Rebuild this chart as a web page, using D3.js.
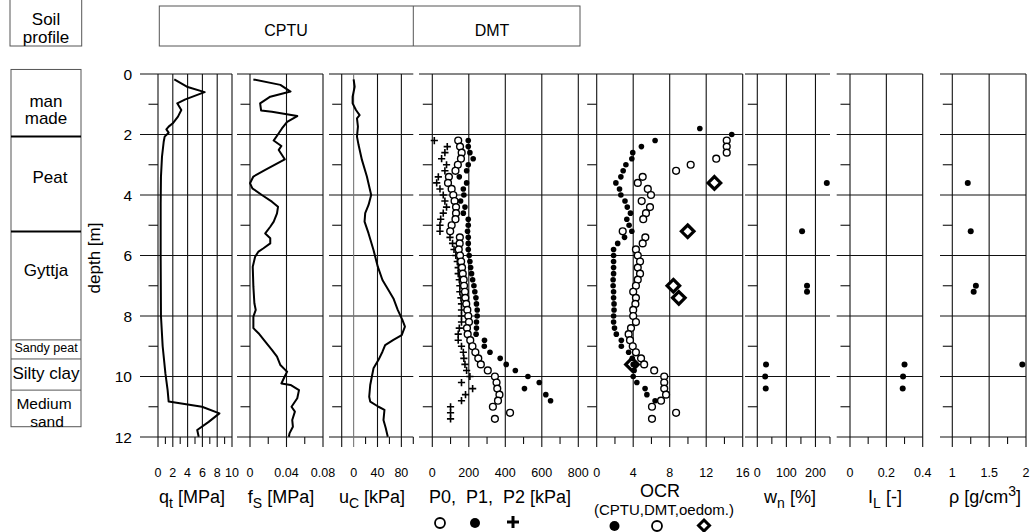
<!DOCTYPE html>
<html><head><meta charset="utf-8">
<script src="https://cdn.jsdelivr.net/npm/d3@7"></script>
<style>
body{margin:0;background:#fff}
svg{display:block}
text{font-family:"Liberation Sans",Arial,sans-serif;fill:#000}
</style></head>
<body><svg id="c" width="1033" height="532"></svg>
<script>
// ---------------- DATA ----------------
const depthTicks = [0,2,4,6,8,10,12];
const depthMinor = [1,3,5,7,9,11];
const soilNames = [["man","made"],["Peat"],["Gyttja"],["Sandy peat"],["Silty clay"],["Medium","sand"]];
const soilBounds = [-0.15,2.07,5.21,8.79,9.42,10.45,11.66];

const qtDepth = [0.18,0.42,0.6,0.84,0.97,1.19,1.41,1.63,1.74,1.83,1.94,2.07,2.24,2.73,3.4,4.28,6.04,8.0,9.0,9.9,10.45,10.83,11.0,11.22,11.5,11.77,11.99];
const qtValue = [2.2,3.9,6.3,3.7,2.6,3.15,2.7,2.0,1.44,1.13,1.44,0.9,0.77,0.54,0.4,0.36,0.36,0.4,0.63,1.0,1.3,1.44,5.95,8.3,6.85,5.3,5.5];

const fsDepth = [0.18,0.36,0.58,0.75,0.97,1.21,1.25,1.39,1.58,1.8,1.96,2.2,2.38,2.51,2.82,3.17,3.39,3.61,3.78,4.0,4.22,4.39,4.61,4.88,5.05,5.27,5.43,5.6,5.76,5.87,6.04,6.37,7.03,7.58,7.8,8.02,8.4,8.57,8.85,9.12,9.34,9.62,9.79,9.84,10.0,10.23,10.28,10.45,10.72,11.0,11.16,11.44,11.66,11.88,11.99];
const fsValue = [0.0037,0.0333,0.0444,0.0222,0.0111,0.0122,0.024,0.0518,0.0407,0.035,0.0315,0.0259,0.0344,0.0315,0.0381,0.0167,0.0037,0.0,0.0026,0.013,0.024,0.0307,0.0296,0.026,0.0222,0.0167,0.0222,0.0222,0.0148,0.0093,0.0056,0.003,0.0037,0.0048,0.0063,0.0037,0.0037,0.0093,0.0167,0.024,0.0296,0.0333,0.0389,0.0407,0.038,0.0344,0.0444,0.0537,0.0518,0.0455,0.0492,0.0463,0.047,0.0433,0.0426];

const ucDepth = [0.18,0.42,0.75,0.97,1.19,1.36,1.47,1.74,2.07,2.35,2.84,3.39,4.0,4.33,4.6,4.88,5.27,5.82,6.37,6.81,7.14,7.42,7.8,8.13,8.35,8.63,8.79,8.96,9.18,9.45,9.73,10.0,10.28,10.67,10.83,11.0,11.1,11.44,11.71,11.99];
const ucValue = [0,1.7,-1.7,-1.7,3.9,10,5.6,7.2,5.6,8.3,13.9,22.2,29.4,25,19.4,18.3,25,33.3,40.5,48.3,58.3,66.7,73.9,81.7,86,80.6,66.7,52.8,48.3,41.7,33.3,30.6,27.8,26.1,27.8,41.7,51.7,50,53.9,57.2];

const dmtDepth = [2.2,2.4,2.6,2.8,3.0,3.2,3.4,3.6,3.8,4.0,4.2,4.4,4.6,4.8,5.0,5.2,5.4,5.6,5.8,6.0,6.2,6.4,6.6,6.8,7.0,7.2,7.4,7.6,7.8,8.0,8.2,8.4,8.6,8.8,9.0,9.2,9.4,9.6,9.8,10.0,10.2,10.4,10.6,10.8,11.0,11.2,11.4];
const p0Value = [142,152,161,157,140,127,91,86,106,115,122,130,130,127,106,98,151,150,145,152,158,163,167,172,174,179,181,186,192,197,201,190,194,208,220,236,252,266,304,343,352,356,368,360,332,426,343];
const p1Value = [197,197,206,224,197,188,148,188,170,173,155,179,170,197,197,193,197,197,197,202,206,210,215,221,228,233,239,242,246,246,242,242,240,286,285,316,372,405,455,524,586,505,622,648];
const p2Value = [11,82,69,51,78,69,33,24,42,60,69,78,60,46,42,42,97,111,119,129,137,142,142,148,151,151,157,160,160,160,160,148,142,142,160,170,173,179,188,206,160,221,182,160,100,100,100];

const ocrCptuDepth = [1.8,2.0,2.2,2.4,2.6,2.8,3.0,3.2,3.4,3.6,3.8,4.0,4.2,4.4,4.6,4.8,5.0,5.2,5.4,5.6,5.8,6.0,6.2,6.4,6.6,6.8,7.0,7.2,7.4,7.6,7.8,8.0,8.2,8.4,8.6,8.8,9.0,9.2,9.4,9.6,9.8,10.0,10.2,10.4,10.6,10.8];
const ocrCptuValue = [11.3,14.8,6.4,4.9,3.95,3.85,3.2,2.9,2.65,2.1,2.5,2.65,3.1,3.35,3.7,3.3,3.55,3.85,3.05,2.3,1.85,1.85,1.85,1.85,1.85,1.8,1.8,1.85,1.85,1.9,1.9,1.85,1.85,1.95,2.15,2.7,2.7,3.5,3.9,4.0,4.1,4.0,4.4,5.3,5.5,6.4];
const ocrDmtDepth = [2.2,2.4,2.6,2.8,3.0,3.2,3.4,3.6,3.8,4.0,4.2,4.4,4.6,4.8,5.2,5.4,5.6,5.8,6.0,6.2,6.4,6.6,6.8,7.0,7.2,7.4,7.6,7.8,8.0,8.2,8.4,8.6,8.8,9.0,9.2,9.4,9.6,9.8,10.0,10.2,10.4,10.6,10.8,11.0,11.2,11.4];
const ocrDmtValue = [14.25,14.25,14.25,13.1,10.3,8.7,5.04,4.5,5.6,5.95,4.93,5.84,5.4,5.1,2.85,5.33,5.04,4.3,4.5,4.75,4.5,4.75,4.5,4.3,4.0,4.3,4.24,4.0,4.0,4.3,3.76,3.5,3.65,3.95,4.3,4.86,5.2,6.3,7.4,7.4,7.4,7.6,7.05,6.06,8.7,6.06];
const ocrOedDepth = [3.6,5.2,7.0,7.4,9.6];
const ocrOedValue = [12.9,9.97,8.4,9.0,3.87];

const wnDepth = [3.6,5.2,7.0,7.2,9.6,10.0,10.4];
const wnValue = [239,154,171,171,30,27,29];
const ilDepth = [9.6,10.0,10.4];
const ilValue = [0.3,0.292,0.29];
const rhoDepth = [3.6,5.2,7.0,7.2,9.6];
const rhoValue = [1.21,1.25,1.32,1.29,1.95];

const qtGrid=[0,2,4,6,8,10], qtMinor=[1,3,5,7,9], qtLabels=["0","2","4","6","8","10"];
const fsGrid=[0,0.04,0.08], fsMinor=[0.02,0.06], fsLabels=["0","0.04","0.08"];
const ucGrid=[-20,0,40,80], ucMinor=[20,60,100], ucLabelVals=[0,40,80], ucLabels=["0","40","80"];
const pGrid=[0,200,400,600,800], pMinor=[100,300,500,700], pLabels=["0","200","400","600","800"];
const ocrGrid=[0,4,8,12,16], ocrMinor=[2,6,10,14], ocrLabels=["0","4","8","12","16"];
const wnGrid=[0,100,200], wnMinor=[50,150,250], wnLabels=["0","100","200"];
const ilGrid=[0,0.2,0.4], ilMinor=[0.1,0.3], ilLabels=["0","0.2","0.4"];
const rhoGrid=[1,1.5,2], rhoMinor=[1.25,1.75], rhoLabels=["1","1.5","2"];

// ---------------- LAYOUT ----------------
const svg = d3.select("#c");
const y = d3.scaleLinear().domain([0,12]).range([74,437]);
const GRID="#111";

const panels = {
  qt: {domain:[0,10], range:[158,232], start:140, grid:qtGrid, minor:qtMinor, lv:qtGrid, lab:qtLabels},
  fs: {domain:[0,0.08], range:[250,323], start:237, grid:fsGrid, minor:fsMinor, lv:fsGrid, lab:fsLabels},
  uc: {domain:[-20,100], range:[341.7,413.3], start:329, grid:ucGrid, minor:ucMinor, lv:ucLabelVals, lab:ucLabels},
  p:  {domain:[0,800], range:[432.3,578.3], start:419, grid:pGrid, minor:pMinor, lv:pGrid, lab:pLabels},
  ocr:{domain:[0,16], range:[596.7,742.7], start:578.3, grid:ocrGrid, minor:ocrMinor, lv:ocrGrid, lab:ocrLabels},
  wn: {domain:[0,250], range:[757.3,830], start:745, grid:wnGrid, minor:wnMinor, lv:wnGrid, lab:wnLabels},
  il: {domain:[0,0.4], range:[850,922.7], start:836.7, grid:ilGrid, minor:ilMinor, lv:ilGrid, lab:ilLabels},
  rho:{domain:[1,2], range:[952.3,1026], start:940, grid:rhoGrid, minor:rhoMinor, lv:rhoGrid, lab:rhoLabels}
};

const gGrid = svg.append("g");
Object.entries(panels).forEach(([k,p])=>{
  p.x = d3.scaleLinear().domain(p.domain).range(p.range);
  const g = gGrid.append("g");
  g.selectAll("line.h").data(depthTicks).join("line")
    .attr("x1",p.start).attr("x2",p.range[1])
    .attr("y1",d=>y(d)).attr("y2",d=>y(d))
    .attr("stroke",GRID).attr("stroke-width",1.1);
  g.selectAll("line.m").data(depthMinor).join("line")
    .attr("x1",p.range[0]-9.5).attr("x2",p.range[0])
    .attr("y1",d=>y(d)).attr("y2",d=>y(d))
    .attr("stroke",GRID).attr("stroke-width",1.1);
  g.selectAll("line.v").data(p.grid).join("line")
    .attr("x1",d=>p.x(d)).attr("x2",d=>p.x(d))
    .attr("y1",y(0)).attr("y2",y(12)+10)
    .attr("stroke",d=>(k==="uc"&&d===0)?"#777":GRID).attr("stroke-width",1.1);
  g.selectAll("line.xm").data(p.minor).join("line")
    .attr("x1",d=>p.x(d)).attr("x2",d=>p.x(d))
    .attr("y1",y(12)).attr("y2",y(12)+7)
    .attr("stroke",GRID).attr("stroke-width",1.1);
  g.selectAll("text").data(p.lv).join("text")
    .attr("x",d=>p.x(d)).attr("y",477).attr("text-anchor","middle")
    .attr("font-size",12.5).text((d,i)=>p.lab[i]);
});

svg.append("g").selectAll("text").data(depthTicks).join("text")
  .attr("x",132).attr("y",d=>y(d)+5.5).attr("text-anchor","end")
  .attr("font-size",15.5).text(d=>d);
svg.append("text").attr("transform","translate(100,258) rotate(-90)")
  .attr("text-anchor","middle").attr("font-size",17).text("depth [m]");

// ---------------- CURVES ----------------
function curve(panel, depths, vals){
  const p = panels[panel];
  const pts = depths.map((d,i)=>[p.x(vals[i]), y(d)]);
  svg.append("path").attr("d", d3.line()(pts))
    .attr("fill","none").attr("stroke","#000").attr("stroke-width",2).attr("stroke-linejoin","round");
}
curve("qt", qtDepth, qtValue);
curve("fs", fsDepth, fsValue);
curve("uc", ucDepth, ucValue);

// ---------------- MARKERS ----------------
function openCircles(panel, depths, vals, r){
  const p=panels[panel];
  svg.append("g").selectAll("circle").data(depths).join("circle")
    .attr("cx",(d,i)=>p.x(vals[i])).attr("cy",d=>y(d)).attr("r",r||3.4)
    .attr("fill","#fff").attr("stroke","#000").attr("stroke-width",1.4);
}
function dots(panel, depths, vals, r){
  const p=panels[panel];
  svg.append("g").selectAll("circle").data(depths).join("circle")
    .attr("cx",(d,i)=>p.x(vals[i])).attr("cy",d=>y(d)).attr("r",r||2.8)
    .attr("fill","#000");
}
function pluses(panel, depths, vals){
  const p=panels[panel], a=3.6;
  svg.append("g").selectAll("path").data(depths).join("path")
    .attr("d",(d,i)=>{const cx=p.x(vals[i]), cy=y(d);
      return `M${cx-a},${cy}H${cx+a}M${cx},${cy-a}V${cy+a}`;})
    .attr("stroke","#000").attr("stroke-width",1.6).attr("fill","none");
}
function diamonds(panel, depths, vals){
  const p=panels[panel], a=6.3;
  svg.append("g").selectAll("path").data(depths).join("path")
    .attr("d",(d,i)=>{const cx=p.x(vals[i]), cy=y(d);
      return `M${cx},${cy-a}L${cx+a},${cy}L${cx},${cy+a}L${cx-a},${cy}Z`;})
    .attr("stroke","#000").attr("stroke-width",3.2).attr("fill","#fff");
}
pluses("p", dmtDepth, p2Value);
openCircles("p", dmtDepth, p0Value);
dots("p", dmtDepth.slice(0,p1Value.length), p1Value);

diamonds("ocr", ocrOedDepth, ocrOedValue);
openCircles("ocr", ocrDmtDepth, ocrDmtValue);
dots("ocr", ocrCptuDepth, ocrCptuValue);

dots("wn", wnDepth, wnValue, 3);
dots("il", ilDepth, ilValue, 3);
dots("rho", rhoDepth, rhoValue, 3);

// ---------------- SOIL PROFILE ----------------
const soil = svg.append("g");
soil.append("rect").attr("x",11).attr("y",y(soilBounds[0])).attr("width",70)
  .attr("height",y(soilBounds[6])-y(soilBounds[0])).attr("fill","none").attr("stroke","#555").attr("stroke-width",1);
soil.selectAll("line").data(soilBounds.slice(1,6)).join("line")
  .attr("x1",11).attr("x2",81).attr("y1",d=>y(d)).attr("y2",d=>y(d))
  .attr("stroke",(d,i)=>i<2?"#000":"#555").attr("stroke-width",(d,i)=>i<2?2:1);
const soilLab = [
  {x:[46,46], y:[106.5,123.5], fs:17},
  {x:[50], y:[183], fs:17},
  {x:[46], y:[276], fs:17},
  {x:[46], y:[352], fs:12.5},
  {x:[46], y:[378.5], fs:17},
  {x:[44,47], y:[408.5,426.5], fs:15.5}
];
soilLab.forEach((L,i)=>{
  soilNames[i].forEach((t,j)=>{
    soil.append("text").attr("x",L.x[j]).attr("y",L.y[j]).attr("text-anchor","middle")
      .attr("font-size",L.fs).text(t);
  });
});

// ---------------- HEADERS ----------------
svg.append("rect").attr("x",10).attr("y",-2).attr("width",71.7).attr("height",48)
  .attr("fill","none").attr("stroke","#555");
svg.append("text").attr("x",46).attr("y",25).attr("text-anchor","middle").attr("font-size",17).text("Soil");
svg.append("text").attr("x",46).attr("y",43).attr("text-anchor","middle").attr("font-size",17).text("profile");
svg.append("rect").attr("x",159.3).attr("y",6).attr("width",420.7).attr("height",40)
  .attr("fill","none").attr("stroke","#555");
svg.append("line").attr("x1",413.3).attr("x2",413.3).attr("y1",6).attr("y2",46).attr("stroke","#555");
svg.append("text").attr("x",286).attr("y",36).attr("text-anchor","middle").attr("font-size",16).text("CPTU");
svg.append("text").attr("x",492).attr("y",36).attr("text-anchor","middle").attr("font-size",16).text("DMT");

// ---------------- AXIS TITLES ----------------
function title(x, parts, yy){
  const t = svg.append("text").attr("x",x).attr("y",yy||503).attr("text-anchor","middle").attr("font-size",18)
    .style("white-space","pre");
  let shift=0;
  parts.forEach(p=>{
    const ts=t.append("tspan").text(p.t);
    const target = p.sub?5:(p.sup?-7:0);
    if(target!==shift){ ts.attr("dy",target-shift); shift=target; }
    if(p.sub||p.sup) ts.attr("font-size",14);
  });
}
title(192,[{t:"q"},{t:"t",sub:1},{t:" [MPa]"}]);
title(281,[{t:"f"},{t:"S",sub:1},{t:" [MPa]"}]);
title(372,[{t:"u"},{t:"C",sub:1},{t:" [kPa]"}]);
title(500,[{t:"P0,  P1,  P2 [kPa]"}]);
title(660,[{t:"OCR"}],497);
svg.append("text").attr("x",664).attr("y",514.5).attr("text-anchor","middle").attr("font-size",15).text("(CPTU,DMT,oedom.)");
title(790,[{t:"w"},{t:"n",sub:1},{t:" [%]"}]);
title(885,[{t:"I"},{t:"L",sub:1},{t:" [-]"}]);
title(985,[{t:"ρ [g/cm"},{t:"3",sup:1},{t:"]"}]);

// legends
const lg = svg.append("g");
lg.append("circle").attr("cx",440).attr("cy",523).attr("r",5).attr("fill","#fff").attr("stroke","#000").attr("stroke-width",1.8);
lg.append("circle").attr("cx",475).attr("cy",523).attr("r",5).attr("fill","#000");
lg.append("path").attr("d","M507,522H519M513,516V528").attr("stroke","#000").attr("stroke-width",3);
lg.append("circle").attr("cx",614.5).attr("cy",526).attr("r",5).attr("fill","#000");
lg.append("circle").attr("cx",657).attr("cy",526).attr("r",5).attr("fill","#fff").attr("stroke","#000").attr("stroke-width",1.8);
lg.append("path").attr("d","M704,520L709.5,525.5L704,531L698.5,525.5Z").attr("fill","#fff").attr("stroke","#000").attr("stroke-width",3);
</script></body></html>
